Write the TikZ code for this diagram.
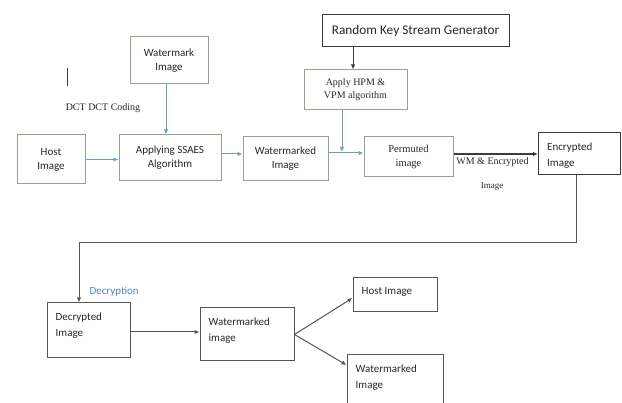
\documentclass[tikz,border=0pt]{standalone}
\usepackage{fontspec}
\setmainfont{Carlito}
\newfontfamily\seriffont{Liberation Serif}
\usetikzlibrary{arrows.meta}
\definecolor{boxgreen}{RGB}{150,162,140}
\definecolor{darkline}{RGB}{60,60,60}
\definecolor{grayline}{RGB}{85,85,85}
\definecolor{textgray}{RGB}{40,40,40}
\definecolor{arrowblue}{RGB}{110,155,200}
\definecolor{textblue}{RGB}{85,135,190}
\begin{document}
\begin{tikzpicture}[x=1pt,y=-1pt,
  boxfont/.style={font=\fontsize{11}{16}\selectfont},
  gbox/.style={draw=boxgreen, line width=1pt, fill=white, inner sep=2pt, align=center, font=\fontsize{11}{14}\selectfont, text=textgray},
  kbox/.style={draw=darkline, line width=1pt, fill=white, inner sep=2pt, align=center, boxfont, text=textgray},
  dbox/.style={draw=grayline, line width=1pt, fill=white, inner sep=0pt},
  tl/.style={label={[anchor=north west, align=left, inner sep=0pt, xshift=9pt, yshift=-10pt, boxfont, text=textgray]north west:{#1}}},
  serif/.style={font=\seriffont\fontsize{10}{13}\selectfont},
  barrow/.style={draw=arrowblue, line width=1pt, -{Latex[length=5pt,width=4.5pt]}},
  karrow/.style={draw=darkline, line width=1pt, -{Latex[length=5pt,width=4.5pt]}},
  darrow/.style={draw=grayline, line width=1pt, -{Latex[length=5pt,width=4.5pt]}}
]
\useasboundingbox (0,0) rectangle (622,403);

% encryption side
\node[gbox, minimum width=78, minimum height=47] (wm) at (169,60.5) {Watermark\\Image};
\node[gbox, minimum width=68, minimum height=49] (host) at (51,159.5) {Host\\Image};
\node[gbox, minimum width=102, minimum height=46] (ssaes) at (170,158) {Applying SSAES\\Algorithm};
\node[gbox, minimum width=85, minimum height=44] (wmd) at (285.5,159) {Watermarked\\Image};
\node[kbox, minimum width=187, minimum height=32, font=\fontsize{13.3}{16}\selectfont] (rks) at (415.5,31) {Random Key Stream Generator};
\node[gbox, serif, minimum width=103, minimum height=40] (hpm) at (355.5,90) {Apply HPM \&\\VPM algorithm};
\node[gbox, serif, font=\seriffont\fontsize{10.5}{14}\selectfont, minimum width=89, minimum height=40] (perm) at (408.5,157) {Permuted\\image};
\node[dbox, draw=darkline, minimum width=82, minimum height=42, tl={Encrypted\\Image}] (enc) at (579.5,154) {};

% decryption side
\node[dbox, minimum width=83, minimum height=55, tl={Decrypted\\Image}] (dec) at (88.5,330.5) {};
\node[dbox, minimum width=94, minimum height=53, tl={Watermarked\\image}] (wm2) at (247,334.5) {};
\node[dbox, minimum width=84, minimum height=34, tl={Host Image}] (hosti) at (395,295) {};
\node[dbox, minimum width=96, minimum height=60, tl={Watermarked\\Image}] (wm3) at (395,385) {};

% texts
\draw[darkline, line width=0.9pt] (67,68) -- (67,86);
\node[serif, text=textgray] (dct) at (103,108) {DCT DCT Coding};
\node[serif, text=textgray] (wmenc) at (492.5,162) {WM \& Encrypted};
\node[serif, font=\seriffont\fontsize{9}{11}\selectfont, text=textgray] (img) at (492,187) {Image};
\node[anchor=west, text=textblue, font=\fontsize{11}{13}\selectfont] (decr) at (86,292) {Decryption};

% connectors
\draw[barrow] ([xshift=-3pt]wm.south) -- ([xshift=-3pt]wm.south |- ssaes.north);
\draw[barrow] (host.east) -- (host.east -| ssaes.west);
\draw[barrow] ([yshift=4pt]ssaes.east) -- ([yshift=4pt]ssaes.east -| wmd.west);
\draw[barrow] ([yshift=4pt]perm.west -| wmd.east) -- ([yshift=4pt]perm.west);
\coordinate (hj) at (342,152);
\draw[barrow] (hj |- hpm.south) -- (hj);
\draw[karrow] ([xshift=-2.5pt]hpm.north |- rks.south) -- ([xshift=-2.5pt]hpm.north);
\draw[karrow, line width=1.4pt] ([yshift=3pt]perm.east) -- ([yshift=3pt]perm.east -| enc.west);
\coordinate (turn) at (79,243);
\draw[darrow] ([xshift=-3.5pt]enc.south) |- (turn) -- (turn |- dec.north);
\draw[darrow] ([yshift=-1.5pt]dec.east) -- ([yshift=-1.5pt]dec.east -| wm2.west);
\draw[darrow] (wm2.east) -- ([yshift=-3pt]hosti.west);
\draw[darrow] (wm2.east) -- ([yshift=20pt]wm3.west);
\end{tikzpicture}
\end{document}
